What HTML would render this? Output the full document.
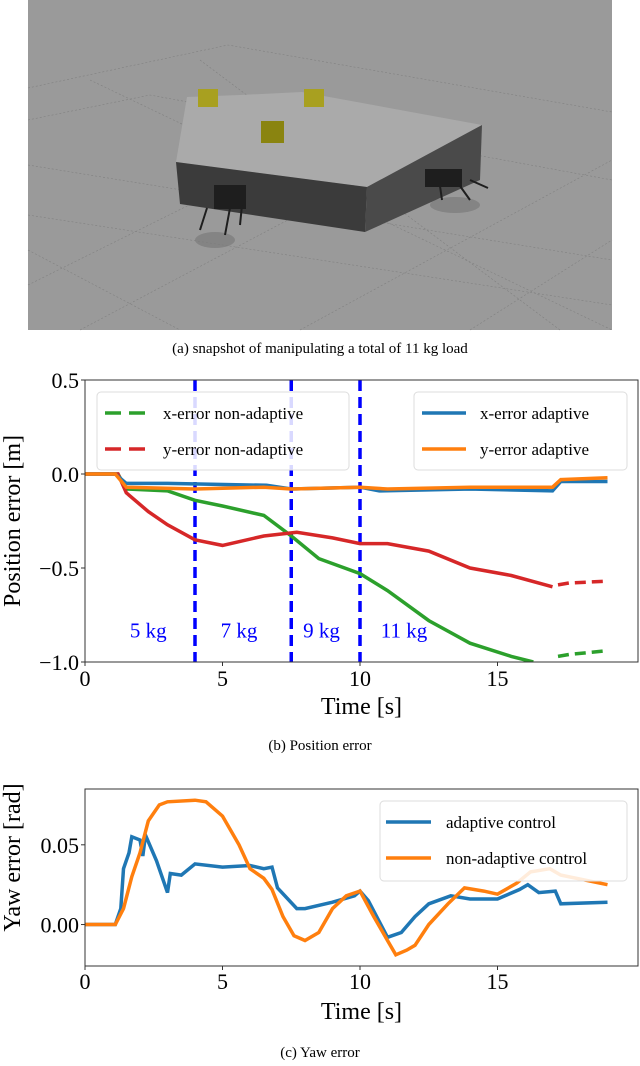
<!DOCTYPE html>
<html><head><meta charset="utf-8"><style>
body{margin:0;background:#fff;width:640px;height:1061px;overflow:hidden;font-family:"Liberation Serif",serif}
svg text{font-family:"Liberation Serif",serif}
</style></head><body>
<svg width="640" height="1061" viewBox="0 0 640 1061">
<g>
<rect x="28" y="0" width="584" height="330" fill="#9a9a9a"/>
<g stroke="#808080" stroke-width="0.6" stroke-dasharray="2,2" fill="none">
<path d="M28 88 L228 45 L612 112"/><path d="M28 120 L150 95 L612 180"/><path d="M28 165 L612 260"/><path d="M28 215 L612 305"/><path d="M28 285 L300 150"/><path d="M80 330 L420 150"/><path d="M300 330 L612 160"/><path d="M470 330 L612 240"/><path d="M90 80 L612 330"/><path d="M200 60 L560 330"/><path d="M28 250 L180 330"/></g>
<g fill="#7a7a7a" opacity="0.7"><ellipse cx="215" cy="240" rx="20" ry="8"/><ellipse cx="455" cy="205" rx="25" ry="8"/></g>
<polygon points="187,97 240,95 302,92 482,125 367,187 176,162" fill="#aaaaaa"/>
<polygon points="176,162 367,187 365,232 180,204" fill="#3b3b3b"/>
<polygon points="367,187 482,125 480,180 365,232" fill="#4a4a4a"/>
<rect x="198" y="89" width="20" height="18" fill="#a8a020"/><rect x="304" y="89" width="20" height="18" fill="#a8a020"/><rect x="261" y="121" width="23" height="22" fill="#8a8410"/>
<g fill="#1e1e1e" stroke="#1e1e1e" stroke-width="2"><rect x="215" y="186" width="30" height="22"/><path d="M207 208 L200 230 M230 208 L225 235 M242 205 L240 225" fill="none"/><rect x="426" y="170" width="35" height="16"/><path d="M440 186 L442 200 M460 186 L470 200 M470 180 L488 188" fill="none"/></g>
<text x="320" y="353" font-size="15" text-anchor="middle">(a) snapshot of manipulating a total of 11 kg load</text>
</g>

<g id="c1"></g>
<text x="320" y="750" font-size="15" text-anchor="middle">(b) Position error</text>
<g id="c2"></g>
<text x="320" y="1057" font-size="15" text-anchor="middle">(c) Yaw error</text>
</svg>
<script>
const NS="http://www.w3.org/2000/svg";
// chart 1 data
const p_xticks=[0,5,10,15];
const p_yticks=[0.5,0.0,-0.5,-1.0];
const p_yticklabels=["0.5","0.0","\u22120.5","\u22121.0"];
const greenT=[0,1.2,1.5,3,4,5,6.5,7.5,8.5,10,11,12.5,14,15.5,16.3];
const greenV=[0,0,-0.08,-0.09,-0.14,-0.17,-0.22,-0.33,-0.45,-0.53,-0.62,-0.78,-0.90,-0.97,-1.0];
const greenDashT=[17.2,17.6,19];
const greenDashV=[-0.97,-0.96,-0.94];
const redT=[0,1.2,1.5,2.3,3,4,5,6.5,7.7,9,10,11,12.5,14,15.5,17];
const redV=[0,0,-0.1,-0.2,-0.27,-0.35,-0.38,-0.33,-0.31,-0.34,-0.37,-0.37,-0.41,-0.50,-0.54,-0.60];
const redDashT=[17.2,17.6,19];
const redDashV=[-0.59,-0.58,-0.57];
const blueT=[0,1.1,1.5,3,6.6,7.5,10,10.7,14,17,17.3,19];
const blueV=[0,0,-0.05,-0.05,-0.06,-0.08,-0.07,-0.09,-0.08,-0.09,-0.04,-0.04];
const orangeT=[0,1.1,1.5,4,6.5,7.5,10,11,14,17,17.3,19];
const orangeV=[0,0,-0.07,-0.08,-0.07,-0.08,-0.07,-0.08,-0.07,-0.07,-0.03,-0.02];
const massLines=[4,7.5,10];
const massLabels=["5 kg","7 kg","9 kg","11 kg"];
const massLabelT=[2.3,5.6,8.6,11.6];
// chart 2 data
const y_xticks=[0,5,10,15];
const y_yticks=[0.05,0.0];
const y_yticklabels=["0.05","0.00"];
const adT=[0,1.1,1.3,1.4,1.6,1.7,2.0,2.1,2.2,2.6,2.8,3.0,3.1,3.5,4.0,5.0,6.0,6.5,6.8,7.0,7.7,8.0,9,9.8,10.0,10.3,11.0,11.5,12,12.5,13.3,14,15,15.8,16.1,16.5,17.1,17.3,19];
const adV=[0,0,0.01,0.035,0.045,0.055,0.053,0.043,0.056,0.04,0.03,0.02,0.032,0.031,0.038,0.036,0.037,0.035,0.036,0.023,0.01,0.01,0.014,0.018,0.021,0.015,-0.008,-0.005,0.005,0.013,0.018,0.016,0.016,0.022,0.025,0.02,0.021,0.013,0.014];
const naT=[0,1.1,1.4,1.7,2.0,2.3,2.7,3.0,4.0,4.4,5.0,5.6,6.0,6.5,6.8,7.2,7.6,8.0,8.5,9.0,9.5,10.0,10.5,11,11.3,11.7,12,12.5,13.2,13.8,14.5,15,15.7,16.2,16.9,17.3,19];
const naV=[0,0,0.01,0.03,0.045,0.065,0.075,0.077,0.078,0.077,0.068,0.05,0.035,0.029,0.022,0.005,-0.007,-0.01,-0.005,0.01,0.018,0.021,0.005,-0.01,-0.019,-0.016,-0.013,0,0.013,0.023,0.021,0.019,0.026,0.033,0.035,0.031,0.025];

function el(tag,attrs,parent,txt){const e=document.createElementNS(NS,tag);for(const k in attrs)e.setAttribute(k,attrs[k]);if(txt!==undefined)e.textContent=txt;parent.appendChild(e);return e;}
const L=85,R=638;
function sx(t){return L+t*27.5;}

// chart 1
(function(){
const g=document.getElementById('c1');const T=380,B=662;
const sy=v=>T+(0.5-v)/1.5*(B-T);
const clip=el('clipPath',{id:'cp1'},g);el('rect',{x:L,y:T,width:R-L,height:B-T},clip);
function line(ts,vs,color,name,dash){const d=ts.map((t,i)=>(i?'L':'M')+sx(t).toFixed(1)+' '+sy(vs[i]).toFixed(1)).join(' ');
const p=el('path',{d:d,fill:'none',stroke:color,'stroke-width':3.5,'clip-path':'url(#cp1)'},g);if(dash)p.setAttribute('stroke-dasharray','11,6');

}
massLines.forEach(t=>{const l=el('line',{x1:sx(t),x2:sx(t),y1:T,y2:B,stroke:'#0000ff','stroke-width':3.5,'stroke-dasharray':'11,6'},g);

});
massLabels.forEach((s,i)=>{const t=el('text',{x:sx(massLabelT[i]),y:sy(-0.87),'font-size':21,fill:'#0000ff','text-anchor':'middle'},g,s);

});
line(greenT,greenV,'#2ca02c','x-error-non-adaptive');line(greenDashT,greenDashV,'#2ca02c','x-error-non-adaptive-dashed',true);
line(redT,redV,'#d62728','y-error-non-adaptive');line(redDashT,redDashV,'#d62728','y-error-non-adaptive-dashed',true);
line(blueT,blueV,'#1f77b4','x-error-adaptive');line(orangeT,orangeV,'#ff7f0e','y-error-adaptive');
el('rect',{x:L,y:T,width:R-L,height:B-T,fill:'none',stroke:'#333','stroke-width':1},g);
p_xticks.forEach(t=>{el('line',{x1:sx(t),x2:sx(t),y1:B,y2:B+4,stroke:'#333'},g);const tx=el('text',{x:sx(t),y:B+24,'font-size':22,'text-anchor':'middle'},g,String(t));

});
p_yticks.forEach((v,i)=>{el('line',{x1:L-4,x2:L,y1:sy(v),y2:sy(v),stroke:'#333'},g);const tx=el('text',{x:L-6,y:sy(v)+8,'font-size':22,'text-anchor':'end'},g,p_yticklabels[i]);

});
const xt=el('text',{x:(L+R)/2,y:B+52,'font-size':24,'text-anchor':'middle'},g,'Time [s]');


const yt=el('text',{x:0,y:0,'font-size':24,'text-anchor':'middle',transform:`translate(20,${(T+B)/2}) rotate(-90)`},g,'Position error [m]');


function legend(x,y,w,items){const lg=el('g',{},g);


el('rect',{x:x,y:y,width:w,height:78,rx:4,fill:'#fff','fill-opacity':0.85,stroke:'#ddd'},lg);
items.forEach((it,i)=>{const yy=y+21+i*36;el('line',{x1:x+8,x2:x+52,y1:yy,y2:yy,stroke:it[1],'stroke-width':3.5,'stroke-dasharray':it[2]?'16,8':'none'},lg);
const t=el('text',{x:x+66,y:yy+6,'font-size':17},lg,it[0]);

});}
legend(97,392,252,[['x-error non-adaptive','#2ca02c',1],['y-error non-adaptive','#d62728',1]]);
legend(414,392,213,[['x-error adaptive','#1f77b4',0],['y-error adaptive','#ff7f0e',0]]);
})();

// chart 2
(function(){
const g=document.getElementById('c2');const T=789,B=966;
const YT=0.085,YB=-0.026;
const sy=v=>T+(YT-v)/(YT-YB)*(B-T);
function line(ts,vs,color,name){const d=ts.map((t,i)=>(i?'L':'M')+sx(t).toFixed(1)+' '+sy(vs[i]).toFixed(1)).join(' ');
const p=el('path',{d:d,fill:'none',stroke:color,'stroke-width':3.5},g);

}
line(adT,adV,'#1f77b4','adaptive-control-line');line(naT,naV,'#ff7f0e','non-adaptive-control-line');
el('rect',{x:L,y:T,width:R-L,height:B-T,fill:'none',stroke:'#333','stroke-width':1},g);
y_xticks.forEach(t=>{el('line',{x1:sx(t),x2:sx(t),y1:B,y2:B+4,stroke:'#333'},g);const tx=el('text',{x:sx(t),y:B+23,'font-size':22,'text-anchor':'middle'},g,String(t));

});
y_yticks.forEach((v,i)=>{el('line',{x1:L-4,x2:L,y1:sy(v),y2:sy(v),stroke:'#333'},g);const tx=el('text',{x:L-6,y:sy(v)+8,'font-size':22,'text-anchor':'end'},g,y_yticklabels[i]);

});
const xt=el('text',{x:(L+R)/2,y:B+53,'font-size':24,'text-anchor':'middle'},g,'Time [s]');


const yt=el('text',{x:0,y:0,'font-size':24,'text-anchor':'middle',transform:`translate(20,${(T+B)/2-20}) rotate(-90)`},g,'Yaw error [rad]');


const lg=el('g',{},g);


el('rect',{x:380,y:801,width:247,height:80,rx:4,fill:'#fff','fill-opacity':0.85,stroke:'#ddd'},lg);
[['adaptive control','#1f77b4'],['non-adaptive control','#ff7f0e']].forEach((it,i)=>{const yy=822+i*36;el('line',{x1:386,x2:431,y1:yy,y2:yy,stroke:it[1],'stroke-width':3.5},lg);
const t=el('text',{x:446,y:yy+6,'font-size':17},lg,it[0]);

});
})();
</script>
</body></html>
